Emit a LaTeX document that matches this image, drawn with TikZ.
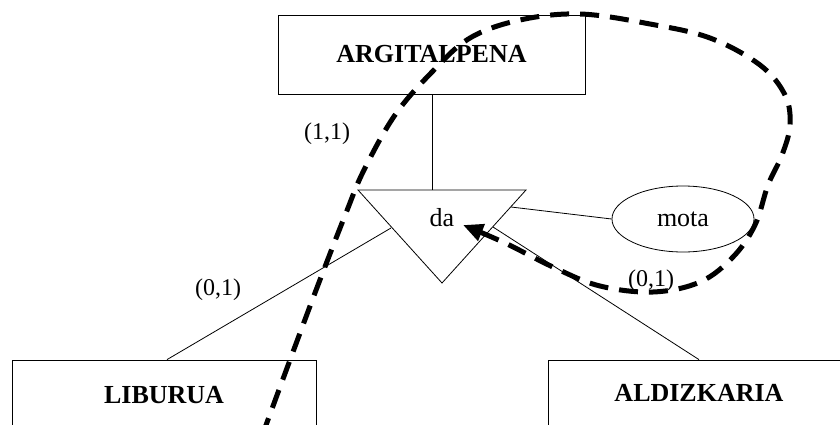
\documentclass[tikz,border=0pt]{standalone}
\usepackage{fontspec}
\setmainfont{Liberation Serif}
\usetikzlibrary{arrows.meta,shapes.geometric}
\begin{document}
\begin{tikzpicture}[x=1pt,y=-1pt,
  thin line/.style={draw=black, line width=0.8pt},
  entity/.style={thin line, inner sep=0pt, font=\fontsize{26}{30}\selectfont\bfseries},
  lbl/.style={inner sep=0pt, font=\fontsize{24}{28}\selectfont},
  attr/.style={thin line, ellipse, inner sep=0pt, minimum width=142pt, minimum height=66pt, font=\fontsize{26}{30}\selectfont},
  loopline/.style={line width=5pt, dash pattern=on 19pt off 11pt, line cap=butt}
]
\useasboundingbox (0,0) rectangle (840,425);

% entities
\node[entity, minimum width=307pt, minimum height=79pt] (arg) at (431.5,54.5) {ARGITALPENA};
\node[entity, minimum width=304pt, minimum height=70pt] (lib) at (164,395) {LIBURUA};
\node[entity, minimum width=302pt, minimum height=66pt] (ald) at (699,393) {ALDIZKARIA};

% relationship triangle
\coordinate (tl) at (358,190);
\coordinate (tr) at (526,190);
\coordinate (tb) at (442,283);
\draw[thin line, line join=miter] (tl) -- (tr) -- (tb) -- cycle;
\node[lbl, font=\fontsize{26}{30}\selectfont] (da) at (442,218) {da};

% attribute
\node[attr] (mota) at (683,219) {\raisebox{-6pt}{mota}};

% connection points
\coordinate (ttop) at (432,190);
\coordinate (tleft) at (391,228);
\coordinate (tright) at (493,227);
\coordinate (tattr) at (511,207);

\draw[thin line] (arg.south -| ttop) -- (ttop);
\draw[thin line] (tleft) -- (lib.north -| 167,0);
\draw[thin line] (tright) -- (ald.north);
\draw[thin line] (tattr) -- (mota.west);

% cardinalities
\node[lbl] (c11) at (327,134) {(1,1)};
\node[lbl] (c01a) at (218,290) {(0,1)};
\node[lbl] (c01b) at (651,281) {(0,1)};

% dashed loop with arrow
\coordinate (lstart) at (262,436);
\coordinate (lend) at (463,225);
\draw[loopline, -{Triangle[length=20pt,width=17pt]}] plot[smooth, tension=0.6] coordinates {
  (lstart) (290,360) (318,285) (346,213) (364,170) (395,115) (432,72) (470,38)
  (520,20) (580,14) (650,24) (710,38) (760,65) (785,95) (790,125) (782,155)
  (768,185) (755,225) (733,257) (700,282) (653,292) (600,286) (555,268) (505,243) (lend)};
\end{tikzpicture}
\end{document}
